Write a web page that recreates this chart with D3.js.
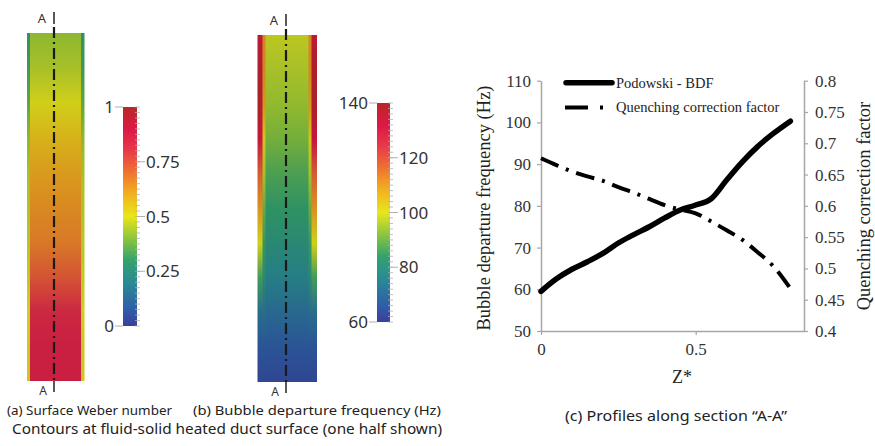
<!DOCTYPE html>
<html>
<head>
<meta charset="utf-8">
<script src="https://cdn.jsdelivr.net/npm/d3@7"></script>
<style>
  html, body { margin: 0; padding: 0; background: #fff; }
  svg { display: block; }
</style>
</head>
<body>
<div id="fig"></div>
<script>
// ---- profile data along section A-A (panel c) ----
const zStar = [0, 0.05, 0.1, 0.15, 0.2, 0.25, 0.3, 0.35, 0.4, 0.45, 0.5, 0.55, 0.6, 0.65, 0.7, 0.75, 0.806];
const bdfHz = [59.5, 62.5, 64.8, 66.6, 68.6, 71.1, 73.1, 75.0, 77.1, 79.0, 80.2, 81.7, 86.2, 90.5, 94.2, 97.3, 100.3];
const quenchFactor = [0.676, 0.665, 0.655, 0.647, 0.640, 0.630, 0.621, 0.611, 0.601, 0.594, 0.588, 0.575, 0.561, 0.546, 0.526, 0.504, 0.468];

const leftTicks = [50, 60, 70, 80, 90, 100, 110];
const rightTicks = [0.4, 0.45, 0.5, 0.55, 0.6, 0.65, 0.7, 0.75, 0.8];
const rightTickLabels = ["0.4", "0.45", "0.5", "0.55", "0.6", "0.65", "0.7", "0.75", "0.8"];
const xTicks = [0, 0.5];

// ---- contour data (values down the duct, top -> bottom) ----
const heightFrac = [0, 0.1, 0.2, 0.3, 0.4, 0.5, 0.6, 0.7, 0.8, 0.9, 1];
const weberCore = [0.42, 0.45, 0.5, 0.56, 0.61, 0.64, 0.67, 0.74, 0.84, 0.87, 0.87];
const weberEdge = [0.3, 0.32, 0.36, 0.42, 0.45, 0.46, 0.47, 0.48, 0.5, 0.52, 0.52];
const bdfCore = [98, 96, 94, 91, 87, 84, 80, 76, 71, 66, 63];
const bdfTrans = [112, 112, 110, 102, 96, 90, 85, 80, 72, 66, 63];
const bdfEdge = [135, 138, 139, 132, 118, 110, 100, 86, 72, 66, 63];

const weberTicks = [0, 0.25, 0.5, 0.75, 1];
const freqTicks = [60, 80, 100, 120, 140];

// colour map of the legend bars (fraction of range)
const cmapT = [0, 0.08, 0.2, 0.3, 0.4, 0.5, 0.6, 0.7, 0.8, 0.9, 1];
const cmapColors = ["#3a3f9e", "#2f5fa8", "#2a8b94", "#34a26e", "#8cc63c", "#e8e61c", "#f2b21e", "#ef7430", "#e83a4a", "#dc1846", "#b82828"];

const W = 875, H = 446;
const svg = d3.select("#fig").append("svg")
    .attr("width", W)
    .attr("height", H);
svg.append("rect").attr("width", W).attr("height", H).attr("fill", "#fff");
const defs = svg.append("defs");

const cmap = d3.scaleLinear().domain(cmapT).range(cmapColors).interpolate(d3.interpolateRgb);

const sans = "'Noto Sans', 'Open Sans', sans-serif";
const serif = "'Liberation Serif', 'DejaVu Serif', serif";

// ---------- contour panels ----------
function contourPanel(opts) {
    const norm = d3.scaleLinear().domain(opts.domain).range([0, 1]);
    const ys = d3.scaleLinear().domain([0, 1]).range([opts.y0, opts.y1]);

    // columns: each gets a vertical gradient
    let x = opts.x0;
    opts.columns.forEach((col, i) => {
        const id = `${opts.id}-col${i}`;
        const grad = defs.append("linearGradient")
            .attr("id", id)
            .attr("x1", 0).attr("x2", 0).attr("y1", 0).attr("y2", 1);
        heightFrac.forEach((f, k) => {
            grad.append("stop")
                .attr("offset", f)
                .attr("stop-color", d3.color(cmap(norm(col.values[k]))).darker(0.3).formatHex());
        });
        svg.append("rect")
            .attr("x", x)
            .attr("y", ys(0))
            .attr("width", col.w + 0.5)
            .attr("height", ys(1) - ys(0))
            .attr("fill", `url(#${id})`);
        x += col.w;
    });

    // section line A-A
    svg.append("line")
        .attr("x1", opts.cx).attr("x2", opts.cx)
        .attr("y1", opts.y0 - 21).attr("y2", opts.y0 - 9)
        .attr("stroke", "#222").attr("stroke-width", 1.5);
    svg.append("line")
        .attr("x1", opts.cx).attr("x2", opts.cx)
        .attr("y1", opts.y0 - 6).attr("y2", opts.y1)
        .attr("stroke", "#1a1a1a")
        .attr("stroke-width", 2.2)
        .attr("stroke-dasharray", "11,4,2,4");
    svg.append("line")
        .attr("x1", opts.cx).attr("x2", opts.cx)
        .attr("y1", opts.y1).attr("y2", opts.y1 + 11)
        .attr("stroke", "#222").attr("stroke-width", 1.5);
    svg.append("text")
        .attr("x", opts.cx - 12).attr("y", opts.y0 - 10)
        .attr("text-anchor", "middle")
        .style("font-family", sans).style("font-size", "13px")
        .attr("fill", "#333").text("A");
    svg.append("text")
        .attr("x", opts.cx - 11).attr("y", opts.y1 + 14)
        .attr("text-anchor", "middle")
        .style("font-family", sans).style("font-size", "12px")
        .attr("fill", "#333").text("A");

    // colour bar
    const cb = opts.bar;
    const gid = `${opts.id}-bar`;
    const bg = defs.append("linearGradient")
        .attr("id", gid)
        .attr("x1", 0).attr("x2", 0).attr("y1", 1).attr("y2", 0);
    cmapT.forEach((t, k) => bg.append("stop").attr("offset", t).attr("stop-color", cmapColors[k]));
    svg.append("rect")
        .attr("x", cb.x).attr("y", cb.y0)
        .attr("width", cb.w).attr("height", cb.y1 - cb.y0)
        .attr("fill", `url(#${gid})`);

    const barScale = d3.scaleLinear().domain(opts.domain).range([cb.y1, cb.y0]);
    const minor = d3.range(opts.domain[0], opts.domain[1] + 1e-9, (opts.domain[1] - opts.domain[0]) / 40);
    svg.append("g").selectAll("line")
        .data(minor).enter().append("line")
        .attr("x1", cb.x + cb.w - 2).attr("x2", cb.x + cb.w + 3)
        .attr("y1", d => barScale(d)).attr("y2", d => barScale(d))
        .attr("stroke", "#b0b0b0").attr("stroke-width", 0.8);

    opts.ticks.forEach((t, k) => {
        const y = barScale(t);
        const ends = k === 0 || k === opts.ticks.length - 1;
        if (ends) {
            svg.append("line")
                .attr("x1", cb.x - 8).attr("x2", cb.x)
                .attr("y1", y).attr("y2", y)
                .attr("stroke", "#b0b0b0").attr("stroke-width", 1);
            svg.append("text")
                .attr("x", cb.x - 9).attr("y", y + 6)
                .attr("text-anchor", "end")
                .style("font-family", sans).style("font-size", "17px")
                .attr("fill", "#333").text(opts.fmt(t));
        } else {
            svg.append("line")
                .attr("x1", cb.x + cb.w).attr("x2", cb.x + cb.w + 8)
                .attr("y1", y).attr("y2", y)
                .attr("stroke", "#b0b0b0").attr("stroke-width", 1);
            svg.append("text")
                .attr("x", cb.x + cb.w + 9).attr("y", y + 6)
                .style("font-family", sans).style("font-size", "17px")
                .attr("fill", "#333").text(opts.fmt(t));
        }
    });
}

contourPanel({
    id: "we", domain: [0, 1], ticks: weberTicks, fmt: d => String(d),
    x0: 27, y0: 33, y1: 381, cx: 54,
    columns: [
        { w: 3, values: weberEdge },
        { w: 51, values: weberCore },
        { w: 3, values: weberEdge }
    ],
    bar: { x: 123, w: 14, y0: 107, y1: 326 }
});

contourPanel({
    id: "bdf", domain: [60, 140], ticks: freqTicks, fmt: d => String(d),
    x0: 257.5, y0: 35, y1: 382, cx: 286,
    columns: [
        { w: 5, values: bdfEdge },
        { w: 3, values: bdfTrans },
        { w: 43, values: bdfCore },
        { w: 3, values: bdfTrans },
        { w: 5, values: bdfEdge }
    ],
    bar: { x: 377, w: 13, y0: 103, y1: 322 }
});

// ---------- profile chart (c) ----------
const plot = { left: 541, right: 804, top: 80.7, bottom: 331 };
const x = d3.scaleLinear().domain([0, 0.85]).range([plot.left, plot.right]);
const yL = d3.scaleLinear().domain([50, 110]).range([plot.bottom, plot.top]);
const yR = d3.scaleLinear().domain([0.4, 0.8]).range([plot.bottom, plot.top]);

const axisColor = "#a6a6a6";
function styleAxis(g) {
    g.attr("font-family", null).attr("font-size", null);
    g.select(".domain").attr("stroke", axisColor).attr("stroke-width", 1.5);
    g.selectAll(".tick line").attr("stroke", axisColor).attr("stroke-width", 1.2);
    g.selectAll(".tick text")
        .style("font-family", serif)
        .style("font-size", "17px")
        .attr("fill", "#333");
}

svg.append("g")
    .attr("transform", `translate(${plot.left},0)`)
    .call(d3.axisLeft(yL).tickValues(leftTicks).tickSize(4).tickSizeOuter(0).tickPadding(6))
    .call(styleAxis);

svg.append("g")
    .attr("transform", `translate(${plot.right},0)`)
    .call(d3.axisRight(yR).tickValues(rightTicks).tickSize(4).tickSizeOuter(0).tickPadding(7)
        .tickFormat((d, i) => rightTickLabels[i]))
    .call(styleAxis);

svg.append("g")
    .attr("transform", `translate(0,${plot.bottom})`)
    .call(d3.axisBottom(x).tickValues(xTicks).tickSize(4).tickSizeOuter(0).tickPadding(8)
        .tickFormat(d3.format("")))
    .call(styleAxis);

// axis titles
svg.append("text")
    .attr("transform", `translate(490,208) rotate(-90)`)
    .attr("text-anchor", "middle")
    .style("font-family", serif).style("font-size", "18.5px")
    .attr("fill", "#222")
    .text("Bubble departure frequency (Hz)");
svg.append("text")
    .attr("transform", `translate(870,206) rotate(-90)`)
    .attr("text-anchor", "middle")
    .style("font-family", serif).style("font-size", "18.5px")
    .attr("fill", "#222")
    .text("Quenching correction factor");
svg.append("text")
    .attr("x", 682).attr("y", 383)
    .attr("text-anchor", "middle")
    .style("font-family", serif).style("font-size", "18px")
    .attr("fill", "#222")
    .text("Z*");

// lines
const bdfLine = d3.line()
    .x((d, i) => x(zStar[i]))
    .y(d => yL(d))
    .curve(d3.curveMonotoneX);
const qLine = d3.line()
    .x((d, i) => x(zStar[i]))
    .y(d => yR(d))
    .curve(d3.curveMonotoneX);

svg.append("path")
    .datum(quenchFactor)
    .attr("d", qLine)
    .attr("fill", "none")
    .attr("stroke", "#000")
    .attr("stroke-width", 4)
    .attr("stroke-dasharray", "19,8,3,8");

svg.append("path")
    .datum(bdfHz)
    .attr("d", bdfLine)
    .attr("fill", "none")
    .attr("stroke", "#000")
    .attr("stroke-width", 5.5)
    .attr("stroke-linecap", "round");

// legend
const legend = svg.append("g");
legend.append("line")
    .attr("x1", 566).attr("x2", 612).attr("y1", 82.7).attr("y2", 82.7)
    .attr("stroke", "#000").attr("stroke-width", 5.5).attr("stroke-linecap", "round");
legend.append("text")
    .attr("x", 616).attr("y", 87.5)
    .style("font-family", serif).style("font-size", "14.5px").attr("fill", "#222")
    .text("Podowski - BDF");
legend.append("line")
    .attr("x1", 565).attr("x2", 613).attr("y1", 107.5).attr("y2", 107.5)
    .attr("stroke", "#000").attr("stroke-width", 4)
    .attr("stroke-dasharray", "23,12,3,12");
legend.append("text")
    .attr("x", 616).attr("y", 112)
    .style("font-family", serif).style("font-size", "14.5px").attr("fill", "#222")
    .text("Quenching correction factor");

// captions (width fitted to the reference)
const caption = (txt, xx, yy, size, len) => svg.append("text")
    .attr("x", xx).attr("y", yy)
    .style("font-family", sans).style("font-size", size + "px")
    .attr("textLength", len)
    .attr("lengthAdjust", "spacingAndGlyphs")
    .attr("fill", "#222")
    .text(txt);
caption("(a) Surface Weber number", 7, 415, 13, 165);
caption("(b) Bubble departure frequency (Hz)", 193, 415, 13, 248);
caption("Contours at fluid-solid heated duct surface (one half shown)", 12, 433.5, 13.5, 430);
caption("(c) Profiles along section \u201cA-A\u201d", 565, 421, 13.5, 222);
</script>
</body>
</html>
